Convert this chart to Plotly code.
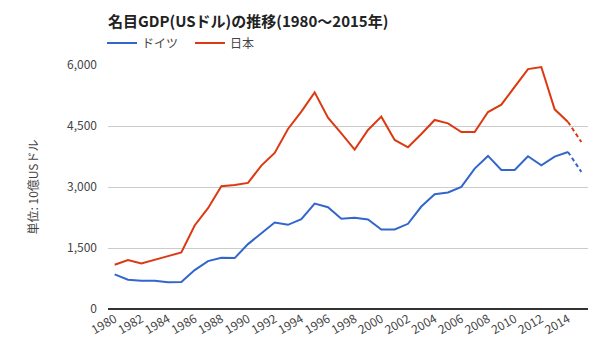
import plotly.graph_objects as go

years = list(range(1980, 2016))
germany = [851, 720, 696, 696, 655, 663, 957, 1178, 1260, 1252, 1596, 1866, 2128, 2070, 2209, 2594,
           2504, 2218, 2242, 2201, 1956, 1956, 2095, 2520, 2823, 2864, 3003, 3453, 3764, 3421, 3421,
           3756, 3535, 3748, 3862, 3371]
japan = [1088, 1203, 1121, 1219, 1301, 1391, 2054, 2479, 3019, 3049, 3101, 3527, 3838, 4427, 4853, 5327,
         4705, 4321, 3920, 4402, 4730, 4157, 3977, 4304, 4648, 4566, 4353, 4353, 4844, 5024, 5466,
         5900, 5949, 4910, 4599, 4108]
series = [("ドイツ", germany, "#3366cc"), ("日本", japan, "#dc3912")]
tick_years = list(range(1980, 2015, 2))
y_ticks = [0, 1500, 3000, 4500, 6000]
y_tick_labels = ["0", "1,500", "3,000", "4,500", "6,000"]

font_family = "Noto Sans CJK JP, Liberation Sans, Arial, sans-serif"
W, H = 592, 352  # page body adds an 8px margin

fig = go.Figure()
for name, vals, color in series:
    fig.add_trace(go.Scatter(x=years[:-1], y=vals[:-1], mode="lines", name=name,
                             line=dict(color=color, width=2), legendgroup=name))
for name, vals, color in series:
    fig.add_trace(go.Scatter(x=years[-2:], y=vals[-2:], mode="lines", name=name, showlegend=False,
                             line=dict(color=color, width=2, dash="4px,3px"), legendgroup=name))

fig.update_layout(
    width=W, height=H,
    margin=dict(l=100, r=12, t=57, b=51, autoexpand=False),
    paper_bgcolor="white", plot_bgcolor="white",
    font=dict(family=font_family, size=12, color="#444"),
    title=dict(text="<b>名目GDP(USドル)の推移(1980～2015年)</b>", x=100/W, xanchor="left",
               xref="container", yref="container",
               y=1-14/H, yanchor="middle", font=dict(size=15, color="#222")),
    legend=dict(orientation="h", x=94/W, xanchor="left", y=1-35/H, yanchor="middle",
                xref="container", yref="container", font=dict(size=12, color="#444"),
                itemwidth=30, bgcolor="rgba(0,0,0,0)", traceorder="normal",
                entrywidth=43),
    showlegend=True,
)
fig.update_xaxes(range=[1979.5, 2015.5], tickmode="array", tickvals=tick_years,
                 ticktext=[str(y) for y in tick_years], tickangle=-30, showgrid=False,
                 showline=False, zeroline=False, ticks="", tickfont=dict(size=12, color="#444"),
                 automargin=False)
fig.update_yaxes(range=[0, 6000], tickmode="array", tickvals=y_ticks, ticktext=y_tick_labels,
                 showgrid=True, gridcolor="#cccccc", gridwidth=1, zeroline=True,
                 zerolinecolor="#333333", zerolinewidth=1.5, ticks="", showline=False,
                 ticklabelstandoff=10, automargin=False,
                 title=dict(text="単位: 10億USドル", font=dict(size=12, color="#444"), standoff=25),
                 tickfont=dict(size=12, color="#444"))

fig.write_html("out.html")
